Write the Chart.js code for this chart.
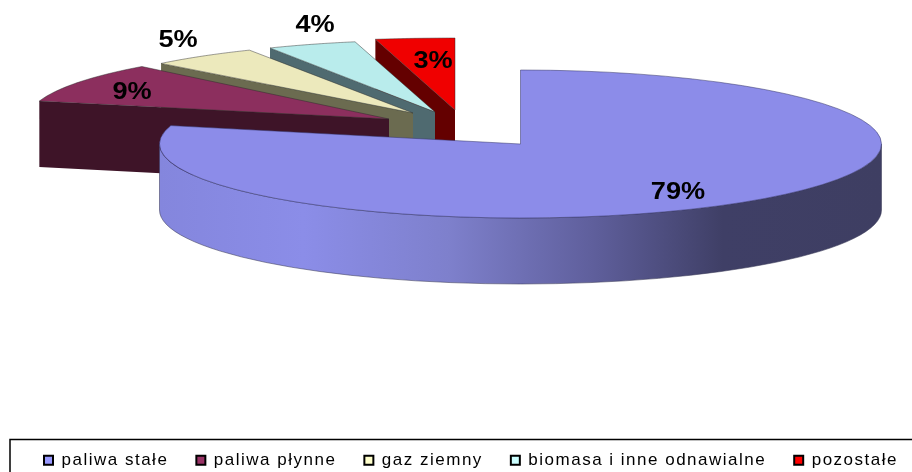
<!DOCTYPE html>
<html>
<head>
<meta charset="utf-8">
<script src="https://cdn.jsdelivr.net/npm/chart.js@4"></script>
<style>
  html, body { margin: 0; padding: 0; background: #fff; overflow: hidden; }
  canvas { display: block; }
</style>
</head>
<body>
<canvas id="chart" width="912" height="472"></canvas>
<script>
const categories = ['paliwa stałe', 'paliwa płynne', 'gaz ziemny', 'biomasa i inne odnawialne', 'pozostałe'];
const shares = [79, 9, 5, 4, 3];

// colours
const topColors = ['#8c8ce9', '#8c2f5e', '#ece9bc', '#b9ecec', '#f00000'];
const wallColors = ['#3e3e64', '#3e1428', '#6b6b50', '#4f6a70', '#640000'];
const legendColors = ['#9999ff', '#993366', '#ffffcc', '#ccffff', '#ff0000'];

// where each slice ends up after the "explode", and the flattening of the pie
const tipX = [520.5, 389, 413, 435, 455];
const tipY = [144, 119, 113, 112, 110];
const tiltDeg = [0, 0, -2.5, -2, 0];
const radiusX = [361, 361, 352, 361, 425];
const radiusY = [74, 72, 71, 72, 72];
const depth = 66;

const labelX = [678, 132, 178, 315, 433];
const labelY = [192, 92, 40, 25, 61];

const LEGEND_PAD = 28;
const LEGEND_SHIFT = 15;
const LEGEND_SPACING = '1.5px';

function corner(i, angle) {
  const a = angle + tiltDeg[i] * Math.PI / 180;
  return { x: tipX[i] + radiusX[i] * Math.cos(a), y: tipY[i] + radiusY[i] * Math.sin(a) };
}

function drawWall(ctx, arc, i) {
  const p = corner(i, arc.startAngle);
  ctx.fillStyle = wallColors[i];
  ctx.beginPath();
  ctx.moveTo(tipX[i], tipY[i]);
  ctx.lineTo(p.x, p.y);
  ctx.lineTo(p.x, p.y + depth);
  ctx.lineTo(tipX[i], tipY[i] + depth);
  ctx.closePath();
  ctx.fill();
}

function drawRound(ctx) {
  const rx = radiusX[0];
  const grad = ctx.createLinearGradient(tipX[0] - rx, 0, tipX[0] + rx, 0);
  grad.addColorStop(0, '#8486dd');
  grad.addColorStop(0.2, '#8b8de8');
  grad.addColorStop(0.4, '#7e80cc');
  grad.addColorStop(0.6, '#5f5f9c');
  grad.addColorStop(0.78, '#3f3f66');
  grad.addColorStop(1, '#3e3e62');
  ctx.fillStyle = grad;
  ctx.beginPath();
  ctx.ellipse(tipX[0], tipY[0], rx, radiusY[0], 0, Math.PI, 0, true);
  ctx.lineTo(tipX[0] + rx, tipY[0] + depth);
  ctx.ellipse(tipX[0], tipY[0] + depth, rx, radiusY[0], 0, 0, Math.PI);
  ctx.closePath();
  ctx.fill();
  ctx.strokeStyle = 'rgba(60,60,90,0.55)';
  ctx.lineWidth = 1;
  ctx.stroke();
}

function drawTop(ctx, arc, i) {
  ctx.save();
  ctx.translate(tipX[i], tipY[i]);
  ctx.scale(radiusX[i] / arc.outerRadius, radiusY[i] / arc.outerRadius);
  ctx.rotate(tiltDeg[i] * Math.PI / 180);
  ctx.translate(-arc.x, -arc.y);
  arc.draw(ctx);
  ctx.restore();

  // thin grey outline like the old office renderer leaves
  ctx.beginPath();
  ctx.moveTo(tipX[i], tipY[i]);
  const steps = 60;
  for (let s = 0; s <= steps; s++) {
    const q = corner(i, arc.startAngle + (arc.endAngle - arc.startAngle) * s / steps);
    ctx.lineTo(q.x, q.y);
  }
  ctx.closePath();
  ctx.strokeStyle = i === 0 ? 'rgba(50,50,100,0.5)' : 'rgba(40,40,40,0.45)';
  ctx.lineWidth = 1;
  ctx.stroke();
}

const pie3d = {
  id: 'pie3d',
  beforeLayout(chart) {
    chart.ctx.letterSpacing = LEGEND_SPACING;
  },
  afterLayout(chart) {
    chart.legend.top = 451.8 - LEGEND_PAD;
    chart.legend.left += LEGEND_SHIFT;
    chart.legend.right += LEGEND_SHIFT;
  },
  beforeDraw(chart) {
    chart.ctx.letterSpacing = LEGEND_SPACING;
  },
  beforeDatasetDraw(chart) {
    const ctx = chart.ctx;
    const arcs = chart.getDatasetMeta(0).data;
    // back to front, the big slice last
    for (let i = arcs.length - 1; i >= 1; i--) {
      drawWall(ctx, arcs[i], i);
      drawTop(ctx, arcs[i], i);
    }
    drawRound(ctx);
    drawTop(ctx, arcs[0], 0);
    return false;
  },
  afterDraw(chart) {
    const ctx = chart.ctx;
    ctx.save();
    ctx.letterSpacing = '0px';
    ctx.strokeStyle = '#000';
    ctx.lineWidth = 1.5;
    ctx.strokeRect(10, 439.5, 920, 50);
    ctx.fillStyle = '#000';
    ctx.font = 'bold 23px "Liberation Sans"';
    ctx.textAlign = 'center';
    ctx.textBaseline = 'middle';
    shares.forEach((v, i) => {
      ctx.save();
      ctx.translate(labelX[i], labelY[i]);
      ctx.scale(1.18, 1);
      ctx.fillText(v + '%', 0, 1);
      ctx.restore();
    });
    ctx.restore();
  }
};

new Chart(document.getElementById('chart'), {
  type: 'pie',
  data: {
    labels: categories,
    datasets: [{
      data: shares,
      backgroundColor: topColors,
      borderWidth: 0
    }]
  },
  options: {
    responsive: false,
    animation: false,
    plugins: {
      tooltip: { enabled: false },
      legend: {
        position: 'bottom',
        labels: {
          color: '#000',
          boxWidth: 9,
          boxHeight: 9,
          padding: LEGEND_PAD,
          font: { family: '"Liberation Sans"', size: 17 },
          generateLabels(chart) {
            return categories.map((text, i) => ({
              text,
              fillStyle: legendColors[i],
              strokeStyle: '#000',
              lineWidth: 2,
              index: i
            }));
          }
        }
      }
    }
  },
  plugins: [pie3d]
});
</script>
</body>
</html>
